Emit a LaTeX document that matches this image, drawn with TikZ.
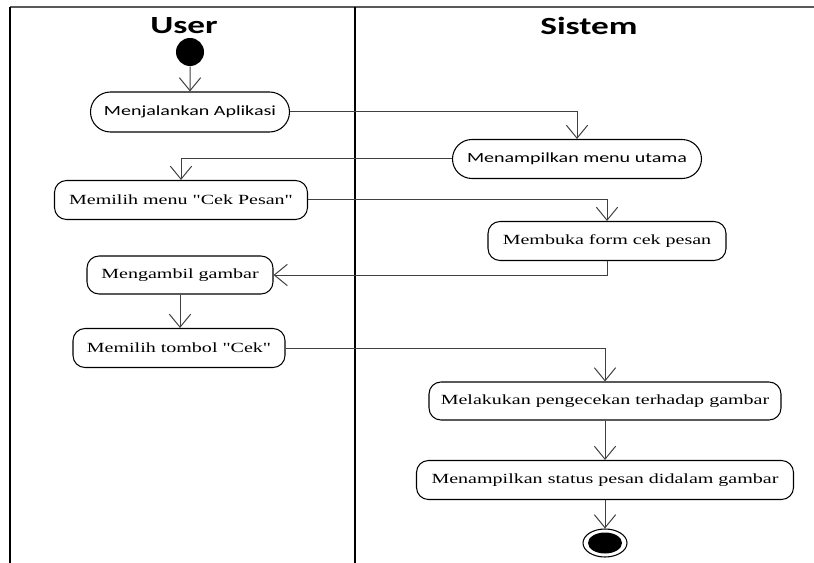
\documentclass[tikz,border=0pt]{standalone}
\usepackage{fontspec}
\usepackage{graphicx}
\setmainfont{Liberation Serif}
\newfontfamily\carlfont{Carlito}
\usetikzlibrary{arrows.meta,shapes.misc,shapes.geometric}
% labels are set slightly widened
\newcommand{\strtxt}[1]{\scalebox{1.43}[1]{#1}}
\newcommand{\dq}{\textquotedbl}
\begin{document}
\begin{tikzpicture}[x=0.75pt,y=-0.75pt,
  size/.style 2 args={minimum width=#1*0.75pt,minimum height=#2*0.75pt},
  act/.style={draw=black,line width=0.8pt,rounded corners=9pt,inner sep=0pt,
    font=\fontsize{10.5pt}{12pt}\selectfont},
  pill/.style={draw=black,line width=0.8pt,rounded rectangle,inner sep=0pt,
    font=\carlfont\fontsize{10.5pt}{12pt}\selectfont},
  flow/.style={draw=black!75,line width=0.75pt,-{Straight Barb[length=9.75pt,width=16pt]}},
  lanetitle/.style={font=\carlfont\bfseries\fontsize{18.5pt}{20pt}\selectfont}]
\useasboundingbox (0,0) rectangle (814,563);

% swimlane frame
\draw[black!65,line width=1.5pt] (10,7) -- (814,7);
\draw[line width=1.8pt] (10,7) -- (10,563);
\draw[line width=2.2pt] (355,7) -- (355,563);
\node[lanetitle] (userlbl) at (184,26) {\strtxt{User}};
\node[lanetitle] (sistemlbl) at (589,26) {\strtxt{Sistem}};

% initial and final states
\node[circle,fill=black,minimum size=21pt,inner sep=0pt] (start) at (190,52) {};
\node[ellipse,draw=black,line width=0.8pt,size={44}{28},inner sep=0pt] (end) at (605,543) {};
\fill (end.center) ellipse [x radius=17, y radius=10.5];

% activities
\node[pill,size={199}{40}] (app) at (190,112) {\strtxt{Menjalankan Aplikasi}};
\node[pill,size={249}{39}] (menu) at (577,159) {\strtxt{Menampilkan menu utama}};
\node[act,size={253}{39}] (pilih) at (181,200) {\strtxt{Memilih menu \dq Cek Pesan\dq}};
\node[act,size={238}{39}] (form) at (607,241) {\strtxt{Membuka form cek pesan}};
\node[act,size={186}{38}] (ambil) at (180,275) {\strtxt{Mengambil gambar}};
\node[act,size={212}{39}] (tombol) at (179,348) {\strtxt{Memilih tombol \dq Cek\dq}};
\node[act,size={352}{38}] (cek) at (605,401) {\strtxt{Melakukan pengecekan terhadap gambar}};
\node[act,size={377}{39}] (status) at (605,480) {\strtxt{Menampilkan status pesan didalam gambar}};

% control flow
\draw[flow] (start) -- (app);
\draw[flow] (app.east) -| (menu.north);
\draw[flow] (menu.west) -| (pilih.north);
\draw[flow] (pilih.east) -| (form.north);
\draw[flow] (form.south) |- (ambil.east);
\draw[flow] (ambil.south) -- (ambil.south |- tombol.north);
\draw[flow] (tombol.east) -| (cek.north);
\draw[flow] (cek) -- (status);
\draw[flow] (status) -- (end);
\end{tikzpicture}
\end{document}
